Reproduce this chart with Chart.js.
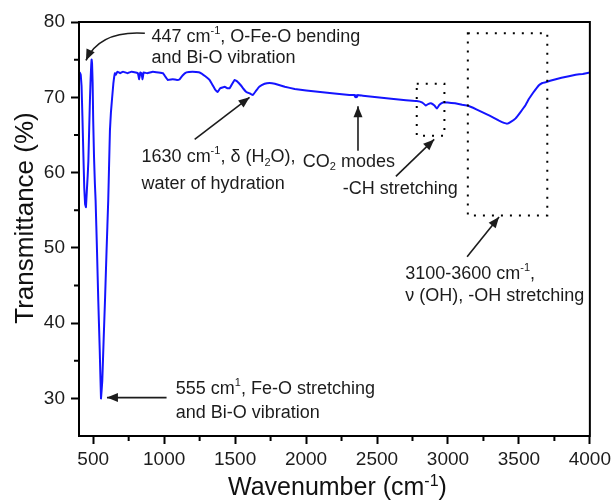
<!DOCTYPE html>
<html lang="en">
<head>
  <meta charset="utf-8">
  <title>FTIR spectrum</title>
  <style>
    html, body { margin: 0; padding: 0; background: #fff; }
    #chart { display: block; }
  </style>
</head>
<body>
  <canvas id="chart" width="615" height="500"></canvas>
  <script src="https://cdn.jsdelivr.net/npm/chart.js@4"></script>
  <script>
    // spectrum (cm-1, %)
    var wavenumber = [400, 406, 412, 418, 424, 430, 437, 443, 449, 455, 461, 466, 472, 477, 482, 486, 489, 492, 496, 500,
      506, 512, 517, 527, 536, 546, 555, 564, 574, 583, 594, 606, 612, 618, 625, 632, 642, 653, 660, 670,
      690, 710, 740, 770, 800, 815, 824, 832, 840, 848, 855, 880, 920, 960, 991, 1010, 1026, 1060, 1090, 1110,
      1130, 1157, 1200, 1250, 1290, 1320, 1342, 1360, 1377, 1395, 1427, 1445, 1462, 1480, 1497, 1515, 1540, 1560, 1579, 1605,
      1625, 1645, 1670, 1708, 1743, 1780, 1850, 1920, 2001, 2100, 2200, 2305, 2340, 2347, 2352, 2358, 2365, 2400, 2500, 2600,
      2704, 2780, 2820, 2844, 2860, 2880, 2905, 2922, 2940, 2965, 2997, 3050, 3100, 3138, 3200, 3267, 3320, 3360, 3395, 3418,
      3440, 3477, 3510, 3545, 3571, 3600, 3641, 3665, 3688, 3720, 3760, 3800, 3852, 3900, 3950, 4000];
    var transmittance = [73.0, 73.3, 73.0, 71.5, 67.5, 63.0, 58.0, 55.8, 55.4, 57.5, 59.5, 61.5, 66.0, 69.6, 72.5, 74.2, 75.0, 74.5, 72.0, 67.0,
      62.0, 58.5, 56.3, 49.5, 42.9, 36.5, 30.0, 32.3, 38.0, 42.9, 49.5, 56.3, 61.0, 65.6, 68.0, 69.6, 71.8, 73.2, 73.0, 73.4,
      73.2, 73.4, 73.2, 73.4, 73.3, 73.2, 72.4, 73.3, 73.2, 72.4, 73.3, 73.2, 73.4, 73.3, 73.2, 72.7, 72.3, 72.4, 72.3, 72.4,
      72.9, 73.3, 73.4, 73.3, 72.8, 72.3, 71.6, 71.0, 70.7, 71.2, 71.4, 71.2, 71.2, 71.8, 72.3, 72.1, 71.6, 71.1, 70.7, 70.5,
      70.3, 70.8, 71.4, 71.8, 71.9, 71.8, 71.4, 71.1, 70.9, 70.7, 70.5, 70.3, 70.3, 70.0, 70.3, 70.0, 70.3, 70.2, 70.0, 69.8,
      69.6, 69.5, 69.3, 68.9, 69.1, 69.2, 68.9, 68.5, 69.0, 69.3, 69.3, 69.2, 69.0, 68.9, 68.4, 67.8, 67.3, 66.9, 66.6, 66.5,
      66.7, 67.2, 68.0, 68.9, 69.8, 70.6, 71.6, 71.9, 72.0, 72.2, 72.4, 72.6, 72.8, 73.0, 73.1, 73.3];

    var xTicks = [500, 1000, 1500, 2000, 2500, 3000, 3500, 4000];
    var xMinor = [750, 1250, 1750, 2250, 2750, 3250, 3750];
    var yTicks = [30, 40, 50, 60, 70, 80];
    var yMinor = [35, 45, 55, 65, 75];

    // annotations, in data units; '^' marks a superscript, '_' a subscript
    var notes = [
      { x: 911, y: [78.0, 75.2], lines: [['447 cm', '^-1', ', O-Fe-O bending'], ['and Bi-O vibration']] },
      { x: 841, y: [62.0, 58.5], lines: [['1630 cm', '^-1', ', \u03B4 (H', '_2', 'O),'], ['water of hydration']] },
      { x: 1977, y: [61.4], lines: [['CO', '_2', ' modes']] },
      { x: 2258, y: [57.8], lines: [['-CH stretching']] },
      { x: 2699, y: [46.5, 43.6], lines: [['3100-3600 cm', '^-1', ','], ['\u03BD (OH), -OH stretching']] },
      { x: 1082, y: [31.2, 28.0], lines: [['555 cm', '^1', ', Fe-O stretching'], ['and Bi-O vibration']] }
    ];
    var arrows = [
      { from: [864, 78.5], via: [548, 78.9], to: [449, 74.9] },
      { from: [1215, 64.4], to: [1602, 70.0] },
      { from: [2366, 62.9], to: [2366, 68.8] },
      { from: [2633, 59.5], to: [2903, 64.4] },
      { from: [3135, 48.8], to: [3360, 54.1] },
      { from: [1017, 30.1], to: [597, 30.1] }
    ];
    var boxes = [
      { x: [2780, 2975], y: [64.9, 71.8] },
      { x: [3140, 3700], y: [54.3, 78.5] }
    ];

    var FONT = '"Liberation Sans", Arial, sans-serif';
    var INK = '#1c1c1c';

    function richText(ctx, parts, x, y, size) {
      var cx = x;
      parts.forEach(function (p) {
        var kind = p.charAt(0);
        var small = kind === '^' || kind === '_';
        var t = small ? p.slice(1) : p;
        var fs = small ? Math.round(size * 0.62) : size;
        var dy = kind === '^' ? -size * 0.36 : (kind === '_' ? size * 0.3 : 0);
        ctx.font = fs + 'px ' + FONT;
        ctx.fillText(t, cx, y + dy);
        cx += ctx.measureText(t).width;
      });
    }

    function arrowHead(ctx, x, y, ang) {
      var len = 11, half = 4.5;
      ctx.beginPath();
      ctx.moveTo(x, y);
      ctx.lineTo(x - len * Math.cos(ang) + half * Math.sin(ang), y - len * Math.sin(ang) - half * Math.cos(ang));
      ctx.lineTo(x - len * Math.cos(ang) - half * Math.sin(ang), y - len * Math.sin(ang) + half * Math.cos(ang));
      ctx.closePath();
      ctx.fill();
    }

    var decor = {
      id: 'decor',
      afterDatasetsDraw: function (chart) {
        var ctx = chart.ctx, a = chart.chartArea;
        var xs = chart.scales.x, ys = chart.scales.y;
        function px(v) { return xs.getPixelForValue(v); }
        function py(v) { return ys.getPixelForValue(v); }
        ctx.save();

        // frame
        ctx.strokeStyle = '#000';
        ctx.lineWidth = 2;
        ctx.strokeRect(a.left, a.top, a.right - a.left, a.bottom - a.top);

        // minor ticks
        ctx.beginPath();
        xMinor.forEach(function (v) { ctx.moveTo(px(v), a.bottom); ctx.lineTo(px(v), a.bottom + 5); });
        yMinor.forEach(function (v) { ctx.moveTo(a.left, py(v)); ctx.lineTo(a.left - 5, py(v)); });
        ctx.stroke();

        // dotted boxes
        ctx.setLineDash([2, 7]);
        ctx.lineWidth = 2;
        boxes.forEach(function (b) {
          ctx.strokeRect(px(b.x[0]), py(b.y[1]), px(b.x[1]) - px(b.x[0]), py(b.y[0]) - py(b.y[1]));
        });
        ctx.setLineDash([]);

        // arrows
        ctx.strokeStyle = INK;
        ctx.fillStyle = INK;
        ctx.lineWidth = 1.6;
        arrows.forEach(function (ar) {
          var x1 = px(ar.from[0]), y1 = py(ar.from[1]), x2 = px(ar.to[0]), y2 = py(ar.to[1]);
          var ang;
          ctx.beginPath();
          ctx.moveTo(x1, y1);
          if (ar.via) {
            var cx = px(ar.via[0]), cy = py(ar.via[1]);
            ctx.quadraticCurveTo(cx, cy, x2, y2);
            ang = Math.atan2(y2 - cy, x2 - cx);
          } else {
            ctx.lineTo(x2, y2);
            ang = Math.atan2(y2 - y1, x2 - x1);
          }
          ctx.stroke();
          arrowHead(ctx, x2, y2, ang);
        });

        // labels
        ctx.textBaseline = 'middle';
        ctx.textAlign = 'left';
        notes.forEach(function (n) {
          n.lines.forEach(function (parts, i) {
            richText(ctx, parts, px(n.x), py(n.y[i]), 18);
          });
        });

        // axis titles
        ctx.fillStyle = '#111';
        ctx.textBaseline = 'alphabetic';
        richText(ctx, ['Wavenumber (cm', '^-1', ')'], 228, 495, 25);
        ctx.translate(33, 218);
        ctx.rotate(-Math.PI / 2);
        ctx.textAlign = 'center';
        ctx.font = '26px ' + FONT;
        ctx.fillText('Transmittance (%)', 0, 0);
        ctx.restore();
      }
    };

    var points = wavenumber.map(function (w, i) { return { x: w, y: transmittance[i] }; });
    var plain = function (v) { return String(v); };

    new Chart(document.getElementById('chart').getContext('2d'), {
      type: 'line',
      data: {
        datasets: [{
          data: points,
          borderColor: '#1414ff',
          borderWidth: 2,
          borderJoinStyle: 'round',
          pointRadius: 0,
          tension: 0.05,
          fill: false
        }]
      },
      options: {
        responsive: false,
        animation: false,
        devicePixelRatio: 1,
        layout: { padding: { top: 22, right: 23, left: 0, bottom: 0 } },
        plugins: { legend: { display: false }, tooltip: { enabled: false } },
        scales: {
          x: {
            type: 'linear',
            min: 400,
            max: 4000,
            afterBuildTicks: function (s) { s.ticks = xTicks.map(function (v) { return { value: v }; }); },
            afterFit: function (s) { s.height = 64; },
            ticks: { font: { family: FONT, size: 19 }, color: '#1c1c1c', padding: 4, maxRotation: 0, callback: plain },
            grid: { drawOnChartArea: false, tickLength: 8, tickWidth: 2, tickColor: '#000' },
            border: { color: '#000', width: 2 }
          },
          y: {
            min: 25,
            max: 80,
            afterBuildTicks: function (s) { s.ticks = yTicks.map(function (v) { return { value: v }; }); },
            afterFit: function (s) { s.width = 79; },
            ticks: { font: { family: FONT, size: 19 }, color: '#1c1c1c', padding: 6, callback: plain },
            grid: { drawOnChartArea: false, tickLength: 8, tickWidth: 2, tickColor: '#000' },
            border: { color: '#000', width: 2 }
          }
        }
      },
      plugins: [decor]
    });
  </script>
</body>
</html>
